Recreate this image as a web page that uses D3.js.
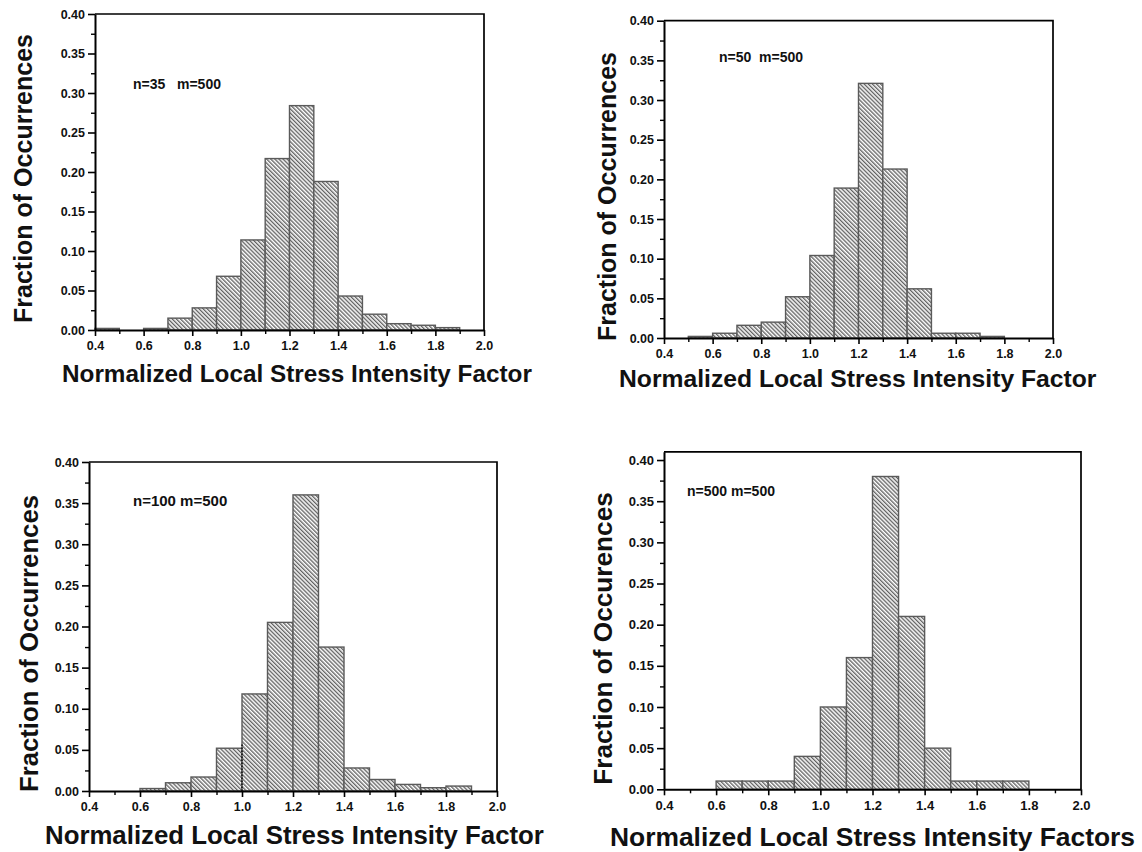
<!DOCTYPE html>
<html>
<head>
<meta charset="utf-8">
<script src="https://cdn.jsdelivr.net/npm/d3@7/dist/d3.min.js"></script>
<style>
  html, body { margin: 0; padding: 0; background: #fff; }
  svg { display: block; }
  text { font-family: "Liberation Sans", Arial, Helvetica, sans-serif; font-weight: bold; fill: #111; }
  .pre { white-space: pre; }
</style>
</head>
<body>
<svg id="chart" width="1142" height="852"></svg>
<script>
// Histogram bins: left edges, bin width 0.1
const binStarts = [0.4, 0.5, 0.6, 0.7, 0.8, 0.9, 1.0, 1.1, 1.2, 1.3, 1.4, 1.5, 1.6, 1.7, 1.8, 1.9];
const binWidth = 0.1;

// Fraction of occurrences per bin, one array per simulation case
const fracN35  = [0.002, 0, 0.002, 0.015, 0.028, 0.068, 0.114, 0.217, 0.284, 0.188, 0.043, 0.020, 0.008, 0.006, 0.003, 0];
const fracN50  = [0, 0.002, 0.006, 0.016, 0.020, 0.052, 0.104, 0.189, 0.321, 0.213, 0.062, 0.006, 0.006, 0.002, 0, 0];
const fracN100 = [0, 0, 0.003, 0.010, 0.017, 0.052, 0.118, 0.205, 0.360, 0.175, 0.028, 0.014, 0.008, 0.004, 0.006, 0];
const fracN500 = [0, 0, 0.010, 0.010, 0.010, 0.040, 0.100, 0.160, 0.380, 0.210, 0.050, 0.010, 0.010, 0.010, 0, 0];

// Axis ticks
const xMajorTicks = [0.4, 0.6, 0.8, 1.0, 1.2, 1.4, 1.6, 1.8, 2.0];
const xMinorTicks = [0.5, 0.7, 0.9, 1.1, 1.3, 1.5, 1.7, 1.9];
const yMajorTicks = [0, 0.05, 0.10, 0.15, 0.20, 0.25, 0.30, 0.35, 0.40];
const yMinorTicks = [0.025, 0.075, 0.125, 0.175, 0.225, 0.275, 0.325, 0.375];

// Text
const caseLabels = ["n=35   m=500", "n=50  m=500", "n=100 m=500", "n=500 m=500"];
const yTitles = ["Fraction of Occurrences", "Fraction of Occurrences", "Fraction of Occurrences", "Fraction of Occurences"];
const xTitles = ["Normalized Local Stress Intensity Factor", "Normalized Local Stress Intensity Factor",
                 "Normalized Local Stress Intensity Factor", "Normalized Local Stress Intensity Factors"];

// Dotted marker at x = 1.0 in the n=100 panel
const markerX = 1.0, markerTop = 0.058;

const series = [fracN35, fracN50, fracN100, fracN500];

// Panel placement
const layout = [
  { left: 95,  right: 484,  bottom: 330,   top: 14,    yMax: 0.40, tickFont: 12.5,
    case: [133, 89, 14],  yTitle: [32, 178.5, 25],  xTitle: [62, 381.7, 24.3] },
  { left: 664, right: 1053, bottom: 338,   top: 20.7,  yMax: 0.40, tickFont: 12.5,
    case: [719, 61.7, 14], yTitle: [616, 196.5, 25], xTitle: [619, 386.7, 24.7] },
  { left: 89,  right: 497,  bottom: 791,   top: 462,   yMax: 0.40, tickFont: 12.5,
    case: [133, 506, 15], yTitle: [38, 643.5, 25.7], xTitle: [45, 844, 25.8] },
  { left: 664, right: 1081, bottom: 789.3, top: 451.8, yMax: 0.41, tickFont: 13,
    case: [687, 495.7, 14], yTitle: [612, 638.5, 26.2], xTitle: [610, 846, 26.4] }
];

const svg = d3.select("#chart");

// Diagonal hatch fill for bars
svg.append("defs").append("pattern")
  .attr("id", "hatch")
  .attr("patternUnits", "userSpaceOnUse")
  .attr("width", 2.9).attr("height", 2.9)
  .attr("patternTransform", "rotate(-45)")
  .call(p => {
    p.append("rect").attr("width", 2.9).attr("height", 2.9).attr("fill", "#fff");
    p.append("line").attr("x1", 0.7).attr("y1", -1).attr("x2", 0.7).attr("y2", 4)
      .attr("stroke", "#555").attr("stroke-width", 1.25);
  });

layout.forEach((L, i) => {
  const g = svg.append("g");
  const x = d3.scaleLinear().domain([0.4, 2.0]).range([L.left, L.right]);
  const y = d3.scaleLinear().domain([0, L.yMax]).range([L.bottom, L.top]);

  const bins = binStarts.map((b, k) => ({ x0: b, x1: b + binWidth, v: series[i][k] })).filter(d => d.v > 0);

  // Bars
  g.selectAll("rect.bar").data(bins).join("rect")
    .attr("class", "bar")
    .attr("x", d => x(d.x0))
    .attr("width", d => x(d.x1) - x(d.x0))
    .attr("y", d => y(d.v))
    .attr("height", d => y(0) - y(d.v))
    .attr("fill", "url(#hatch)")
    .attr("stroke", "#5a5a5a")
    .attr("stroke-width", 1.4);

  if (i === 2) {
    g.append("line")
      .attr("x1", x(markerX)).attr("x2", x(markerX))
      .attr("y1", y(0)).attr("y2", y(markerTop))
      .attr("stroke", "#000").attr("stroke-width", 1.3)
      .attr("stroke-dasharray", "1.5,1.5");
  }

  // Frame: top and right edges
  g.append("path")
    .attr("d", `M${x(0.4)},${y(L.yMax)}H${x(2.0)}V${y(0)}`)
    .attr("fill", "none").attr("stroke", "#000").attr("stroke-width", 1.7);

  // Bottom axis
  const xAxis = d3.axisBottom(x).tickValues(xMajorTicks).tickFormat(d3.format(".1f"))
    .tickSize(6).tickSizeOuter(0).tickPadding(5);
  const gx = g.append("g").attr("transform", `translate(0,${y(0)})`).call(xAxis);
  gx.select(".domain").attr("stroke", "#000").attr("stroke-width", 2);
  gx.selectAll(".tick line").attr("stroke", "#000").attr("stroke-width", 1.6);
  gx.selectAll(".tick text").attr("font-size", L.tickFont).attr("font-family", null).attr("fill", "#111");
  g.append("g").attr("transform", `translate(0,${y(0)})`)
    .call(d3.axisBottom(x).tickValues(xMinorTicks).tickFormat("").tickSize(4).tickSizeOuter(0))
    .call(s => s.select(".domain").remove())
    .selectAll(".tick line").attr("stroke", "#000").attr("stroke-width", 1.4);

  // Left axis
  const yAxis = d3.axisLeft(y).tickValues(yMajorTicks).tickFormat(d3.format(".2f"))
    .tickSize(7).tickSizeOuter(0).tickPadding(3);
  const gy = g.append("g").attr("transform", `translate(${x(0.4)},0)`).call(yAxis);
  gy.select(".domain").attr("stroke", "#000").attr("stroke-width", 2);
  gy.selectAll(".tick line").attr("stroke", "#000").attr("stroke-width", 1.6);
  gy.selectAll(".tick text").attr("font-size", L.tickFont).attr("font-family", null).attr("fill", "#111");
  g.append("g").attr("transform", `translate(${x(0.4)},0)`)
    .call(d3.axisLeft(y).tickValues(yMinorTicks).tickFormat("").tickSize(4).tickSizeOuter(0))
    .call(s => s.select(".domain").remove())
    .selectAll(".tick line").attr("stroke", "#000").attr("stroke-width", 1.4);

  // Case label
  g.append("text").attr("class", "pre")
    .attr("x", L.case[0]).attr("y", L.case[1])
    .attr("font-size", L.case[2])
    .text(caseLabels[i]);

  // Axis titles
  g.append("text")
    .attr("transform", `translate(${L.yTitle[0]},${L.yTitle[1]}) rotate(-90)`)
    .attr("text-anchor", "middle")
    .attr("font-size", L.yTitle[2])
    .text(yTitles[i]);

  g.append("text")
    .attr("x", L.xTitle[0]).attr("y", L.xTitle[1])
    .attr("font-size", L.xTitle[2])
    .text(xTitles[i]);
});
</script>
</body>
</html>
